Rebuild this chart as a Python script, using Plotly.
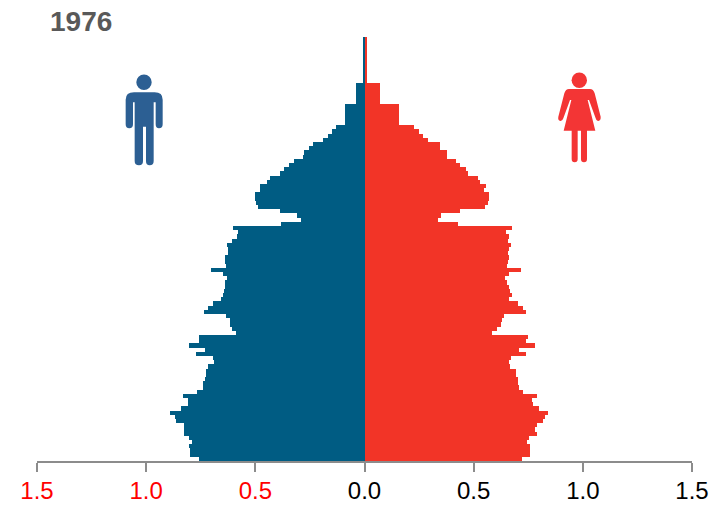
import plotly.graph_objects as go

title_text = "1976"
ages = list(range(101))
male = [0.759,0.797,0.797,0.805,0.789,0.802,0.826,0.826,0.829,0.863,
        0.867,0.889,0.840,0.809,0.809,0.832,0.767,0.741,0.741,0.730,
        0.725,0.725,0.715,0.690,0.695,0.774,0.730,0.805,0.756,0.756,
        0.588,0.608,0.615,0.618,0.634,0.736,0.715,0.692,0.657,0.649,
        0.644,0.641,0.638,0.629,0.646,0.702,0.634,0.638,0.641,0.623,
        0.626,0.629,0.606,0.585,0.580,0.603,0.382,0.293,0.310,0.386,
        0.486,0.496,0.501,0.501,0.478,0.478,0.447,0.432,0.386,0.370,
        0.347,0.324,0.282,0.278,0.252,0.237,0.191,0.165,0.150,0.130,
        0.089,0.089,0.089,0.089,0.089,0.038,0.038,0.038,0.038,0.038,
        0.008,0.008,0.008,0.008,0.008,0.008,0.008,0.008,0.008,0.008,0.008]
female = [0.721,0.757,0.757,0.757,0.745,0.753,0.789,0.779,0.791,0.817,
          0.825,0.840,0.799,0.774,0.767,0.791,0.725,0.707,0.705,0.705,
          0.696,0.695,0.667,0.664,0.672,0.739,0.707,0.783,0.738,0.748,
          0.583,0.608,0.623,0.628,0.638,0.738,0.725,0.702,0.660,0.676,
          0.667,0.660,0.654,0.644,0.661,0.719,0.654,0.657,0.663,0.657,
          0.660,0.670,0.657,0.660,0.650,0.676,0.429,0.336,0.350,0.438,
          0.554,0.565,0.571,0.571,0.547,0.557,0.527,0.522,0.475,0.463,
          0.438,0.420,0.379,0.379,0.344,0.344,0.290,0.267,0.249,0.226,
          0.157,0.157,0.157,0.157,0.157,0.070,0.070,0.070,0.070,0.070,
          0.011,0.011,0.011,0.011,0.011,0.011,0.011,0.011,0.011,0.011,0.011]
tick_vals = [-1.5, -1.0, -0.5, 0.0, 0.5, 1.0, 1.5]
tick_labels = ["1.5", "1.0", "0.5", "0.0", "0.5", "1.0", "1.5"]
tick_colors = ["#ff0000", "#ff0000", "#ff0000", "#000000", "#000000", "#000000", "#000000"]

W, H = 724, 506
L, R, T, B = 37, 692, 37, 461
MALE_C = "#005c83"
FEMALE_C = "#f23427"
MALE_ICON = "#2c5f93"
FEMALE_ICON = "#f33535"


def icon_path(path, ox, oy):
    """Icon outline given in 3x crop pixels; converted to paper coordinates."""
    out, is_x = [], True
    for tok in path.split():
        if tok.isalpha():
            out.append(tok)
            continue
        v = float(tok) / 3
        if is_x:
            out.append(f"{(ox + v - L) / (R - L):.5f},")
        else:
            out.append(f"{(B - (oy + v)) / (B - T):.5f}")
        is_x = not is_x
    return " ".join(out).replace(", ", ",")


male_body = ("M 47 104 Q 47 82 72 82 L 134 82 Q 158 82 158 104 L 158 178 Q 158 190 147 190 "
             "Q 137 190 137 178 L 137 112 L 131 112 L 131 288 Q 131 301 119 301 Q 108 301 108 288 "
             "L 108 185 L 99 185 L 99 288 Q 99 301 87 301 Q 74 301 74 288 L 74 112 L 69 112 "
             "L 69 178 Q 69 190 58 190 Q 47 190 47 178 Z")
female_body = ("M 72 72 L 135 72 Q 145 72 149 85 L 167 155 Q 168 166 160 168 Q 154 169 152 160 "
               "L 132 105 L 128 105 L 151 197 L 126 197 L 126 282 Q 126 292 117 292 Q 108 292 108 282 "
               "L 108 197 L 98 197 L 98 282 Q 98 292 89 292 Q 80 292 80 282 L 80 197 L 56 197 "
               "L 79 105 L 75 105 L 55 160 Q 52 169 46 168 Q 38 166 40 155 L 58 85 Q 62 72 72 72 Z")


def head(cx, cy, r, color):
    return dict(type="circle", xref="paper", yref="paper",
                x0=(cx - r - L) / (R - L), x1=(cx + r - L) / (R - L),
                y0=(B - cy - r) / (B - T), y1=(B - cy + r) / (B - T),
                fillcolor=color, line_width=0, layer="above")


fig = go.Figure()
fig.add_trace(go.Bar(y=ages, x=[-v for v in male], orientation="h", name="Male",
                     marker=dict(color=MALE_C, line_width=0)))
fig.add_trace(go.Bar(y=ages, x=female, orientation="h", name="Female",
                     marker=dict(color=FEMALE_C, line_width=0)))

fig.update_layout(
    width=W, height=H, autosize=False,
    margin=dict(l=L, r=W - R, t=T, b=H - B, pad=0, autoexpand=False),
    paper_bgcolor="white", plot_bgcolor="white",
    barmode="overlay", bargap=0, showlegend=False,
    font=dict(family="Liberation Sans, Arial, sans-serif"),
    xaxis=dict(range=[-1.5, 1.5], tickmode="array", tickvals=tick_vals, automargin=False,
               ticktext=[f'<span style="color:{c}">{t}</span>' for t, c in zip(tick_labels, tick_colors)],
               showgrid=False, zeroline=False, showline=True, linecolor="#8c8c8c", linewidth=2,
               ticks="outside", ticklen=9, tickwidth=2, tickcolor="#8c8c8c",
               tickfont=dict(size=24, color="#000000"), ticklabelstandoff=-2, fixedrange=True),
    yaxis=dict(range=[-0.5, 100.5], visible=False, fixedrange=True),
    shapes=[
        dict(type="path", xref="paper", yref="paper", path=icon_path(male_body, 110, 65),
             fillcolor=MALE_ICON, line_width=0, layer="above"),
        head(144, 82.3, 7.7, MALE_ICON),
        dict(type="path", xref="paper", yref="paper", path=icon_path(female_body, 545, 65),
             fillcolor=FEMALE_ICON, line_width=0, layer="above"),
        head(579.3, 80.3, 7.7, FEMALE_ICON),
    ],
    annotations=[dict(text=f"<b>{title_text}</b>", xref="paper", yref="paper",
                      x=(48 - L) / (R - L), y=(B - 21) / (B - T), xanchor="left", yanchor="middle",
                      showarrow=False, font=dict(size=28, color="#595959"))],
)
fig.write_html("out.html", config={"displayModeBar": False},
               post_script="document.body.style.margin='0';")
